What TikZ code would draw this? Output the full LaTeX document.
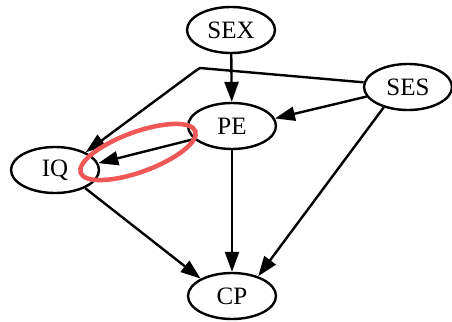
\documentclass[tikz,border=0pt]{standalone}
\usepackage{fontspec}
\setmainfont{Liberation Serif}
\usetikzlibrary{shapes.geometric,arrows.meta}
\definecolor{markred}{RGB}{240,88,88}
\begin{document}
\begin{tikzpicture}[x=1pt,y=-1pt,
  var/.style={draw,ellipse,line width=2.4pt,minimum width=88pt,minimum height=46pt,inner sep=0pt,
    font=\fontsize{25}{25}\selectfont},
  arr/.style={line width=2.4pt,-{Triangle[length=20pt,width=14pt]}},
  highlight/.style={draw=markred,line width=4.5pt}]
\useasboundingbox (0,0) rectangle (452,321);
% variables
\node[var] (SEX) at (231,30) {SEX};
\node[var] (SES) at (408,87) {SES};
\node[var] (PE)  at (232,126) {PE};
\node[var] (IQ)  at (55,170) {IQ};
\node[var] (CP)  at (232,296) {CP};
% bend points of the SES -> IQ edge
\coordinate (b1) at (200,68);
\coordinate (b2) at (194,72);
% edges
\draw[arr] (SEX) -- (PE);
\draw[arr,line join=round] (SES.174) -- (b1) -- (b2) -- (IQ.30);
\draw[arr] (SES.193) -- (PE.10);
\draw[arr] (PE.199) -- (IQ.9);
\draw[arr] (PE) -- (CP);
\draw[arr] (SES.220) -- (CP.37);
\draw[arr] (IQ.329) -- (CP.151);
% highlight around the PE -> IQ arrowhead
\draw[highlight,rotate around={20:(138,152)}] (138,152) ellipse (61 and 20);
\end{tikzpicture}
\end{document}
